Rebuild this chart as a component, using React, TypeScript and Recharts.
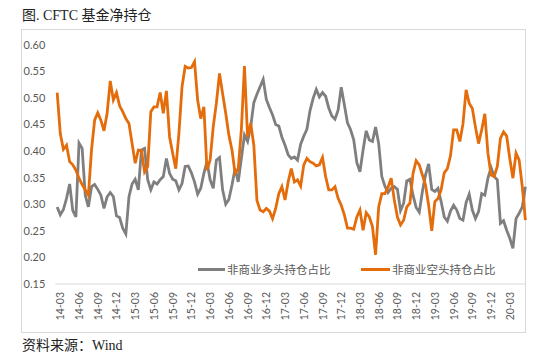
import { LineChart, Line, XAxis, YAxis, Legend } from 'recharts';

const GREY = '#7f7f7f';
const ORANGE = '#e46c0a';
const AXIS_TEXT = '#595959';

// half-month samples, first point mid Feb 2014
const longRatio = [
  0.295, 0.28, 0.29, 0.311, 0.338, 0.288, 0.276, 0.415, 0.405, 0.317,
  0.295, 0.333, 0.337, 0.328, 0.317, 0.292, 0.314, 0.322, 0.314, 0.278,
  0.275, 0.255, 0.244, 0.314, 0.338, 0.347, 0.327, 0.402, 0.405, 0.346,
  0.327, 0.342, 0.338, 0.346, 0.352, 0.386, 0.358, 0.347, 0.344, 0.327,
  0.339, 0.371, 0.372, 0.359, 0.342, 0.319, 0.33, 0.358, 0.38, 0.346,
  0.33, 0.383, 0.388, 0.327, 0.3, 0.309, 0.336, 0.367, 0.342, 0.386,
  0.43, 0.418, 0.446, 0.491, 0.507, 0.521, 0.535, 0.497, 0.482, 0.468,
  0.45, 0.447, 0.426, 0.411, 0.393, 0.386, 0.389, 0.383, 0.413, 0.428,
  0.441, 0.476, 0.499, 0.516, 0.502, 0.51, 0.503, 0.481, 0.466, 0.46,
  0.477, 0.52, 0.487, 0.453, 0.44, 0.421, 0.378, 0.361, 0.402, 0.438,
  0.421, 0.418, 0.445, 0.414, 0.352, 0.334, 0.322, 0.33, 0.333, 0.328,
  0.288, 0.302, 0.344, 0.347, 0.317, 0.294, 0.285, 0.324, 0.355, 0.376,
  0.328, 0.324, 0.33, 0.305, 0.276, 0.268, 0.287, 0.298, 0.289, 0.273,
  0.27, 0.303, 0.319, 0.289, 0.273, 0.286, 0.32, 0.317, 0.349, 0.369,
  0.352, 0.346, 0.264, 0.269, 0.251, 0.236, 0.217, 0.273, 0.283, 0.295,
  0.333,
];

const shortRatio = [
  0.51, 0.433, 0.403, 0.411, 0.38, 0.374, 0.364, 0.349, 0.337, 0.327,
  0.317, 0.402, 0.458, 0.472, 0.458, 0.438, 0.471, 0.532, 0.496, 0.51,
  0.485, 0.474, 0.461, 0.452, 0.414, 0.377, 0.402, 0.401, 0.361, 0.371,
  0.474, 0.483, 0.483, 0.51, 0.471, 0.513, 0.427, 0.396, 0.367, 0.433,
  0.521, 0.559, 0.556, 0.557, 0.568, 0.496, 0.461, 0.483, 0.364, 0.383,
  0.446, 0.49, 0.546, 0.508, 0.471, 0.43, 0.402, 0.358, 0.366, 0.44,
  0.56, 0.427, 0.452, 0.411, 0.307, 0.289, 0.286, 0.292, 0.287, 0.273,
  0.292, 0.32, 0.333, 0.308, 0.342, 0.367, 0.342, 0.346, 0.334, 0.374,
  0.386, 0.38, 0.377, 0.372, 0.374, 0.388, 0.352, 0.327, 0.327, 0.333,
  0.311, 0.298, 0.28, 0.255, 0.255, 0.253, 0.276, 0.289, 0.251, 0.284,
  0.276, 0.258, 0.205, 0.295, 0.32, 0.32, 0.332, 0.349, 0.308, 0.276,
  0.261, 0.27, 0.295, 0.302, 0.358, 0.382, 0.374, 0.355, 0.336, 0.298,
  0.25, 0.305, 0.311, 0.327, 0.359, 0.367, 0.391, 0.44, 0.44, 0.418,
  0.451, 0.515, 0.49, 0.48, 0.445, 0.414, 0.44, 0.47, 0.396, 0.355,
  0.352, 0.371, 0.424, 0.436, 0.428, 0.386, 0.349, 0.396, 0.383, 0.333,
  0.27,
];

const xLabels = [
  '14-03', '14-06', '14-09', '14-12', '15-03', '15-06', '15-09', '15-12',
  '16-03', '16-06', '16-09', '16-12', '17-03', '17-06', '17-09', '17-12',
  '18-03', '18-06', '18-09', '18-12', '19-03', '19-06', '19-09', '19-12', '20-03',
];

const yTicks = [0.15, 0.2, 0.25, 0.3, 0.35, 0.4, 0.45, 0.5, 0.55, 0.6];

// month index 0 = 14-03, samples every half month
const data = longRatio.map((v, i) => ({ m: -0.5 + i * 0.5, long: v, short: shortRatio[i] }));
const xTicks = xLabels.map((_, i) => i * 3);

const tickFont = 'Lato, "Liberation Sans", sans-serif';
const serifFont = '"Liberation Serif", "Noto Sans CJK SC", serif';

const XTick = ({ x, y, payload }: any) => (
  <text
    x={x}
    y={y}
    transform={`rotate(-90 ${x} ${y})`}
    textAnchor="end"
    dominantBaseline="central"
    fontSize={10.5}
    fontFamily={tickFont}
    fill={AXIS_TEXT}
  >
    {xLabels[Math.round(payload.value / 3)]}
  </text>
);

const LegendBox = () => (
  <div
    style={{
      position: 'relative',
      width: 547,
      height: 20,
      fontFamily: '"Noto Sans CJK SC", sans-serif',
      fontSize: 11.5,
      color: AXIS_TEXT,
    }}
  >
    <span style={{ position: 'absolute', left: 197, top: 8, width: 27, height: 3, background: GREY }} />
    <span style={{ position: 'absolute', left: 226, top: 0, lineHeight: '18px', whiteSpace: 'nowrap' }}>
      非商业多头持仓占比
    </span>
    <span style={{ position: 'absolute', left: 360, top: 8, width: 29, height: 3, background: ORANGE }} />
    <span style={{ position: 'absolute', left: 391, top: 0, lineHeight: '18px', whiteSpace: 'nowrap' }}>
      非商业空头持仓占比
    </span>
  </div>
);

export default function App() {
  return (
    <div style={{ position: 'absolute', left: 0, top: 0, width: 548, height: 358, background: '#fff' }}>
      <div
        style={{
          position: 'absolute',
          left: 22,
          top: 7,
          fontSize: 14,
          lineHeight: '17px',
          fontFamily: serifFont,
          color: '#222',
          whiteSpace: 'nowrap',
        }}
      >
        图. CFTC 基金净持仓
      </div>

      {/* chart frame */}
      <div
        style={{
          position: 'absolute',
          left: 21,
          top: 29,
          width: 503,
          height: 302,
          border: '1px solid #d9d9d9',
        }}
      />

      <div style={{ position: 'absolute', left: 0, top: 0 }}>
        <LineChart width={548} height={358} data={data} margin={{ top: 44.7, right: 22.6, bottom: 34, left: 15.3 }}>
          <XAxis
            dataKey="m"
            type="number"
            domain={[-0.8, 74.5]}
            ticks={xTicks}
            interval={0}
            tick={XTick}
            tickLine={false}
            tickSize={0}
            tickMargin={8}
            height={40}
            axisLine={{ stroke: '#d9d9d9' }}
          />
          <YAxis
            type="number"
            domain={[0.15, 0.6]}
            ticks={yTicks}
            width={40}
            tickFormatter={(v: number) => v.toFixed(2)}
            tick={{ fontSize: 11, fill: AXIS_TEXT, fontFamily: tickFont }}
            tickLine={false}
            tickSize={0}
            tickMargin={10}
            axisLine={false}
          />
          <Legend
            layout="horizontal"
            verticalAlign="middle"
            align="center"
            content={LegendBox}
            wrapperStyle={{ left: 1, top: 260, width: 547 }}
          />
          <Line
            type="linear"
            dataKey="long"
            name="非商业多头持仓占比"
            stroke={GREY}
            strokeWidth={2.8}
            dot={false}
            isAnimationActive={false}
          />
          <Line
            type="linear"
            dataKey="short"
            name="非商业空头持仓占比"
            stroke={ORANGE}
            strokeWidth={2.8}
            dot={false}
            isAnimationActive={false}
          />
        </LineChart>
      </div>

      <div
        style={{
          position: 'absolute',
          left: 22,
          top: 337,
          fontSize: 14,
          lineHeight: '17px',
          fontFamily: serifFont,
          color: '#222',
          whiteSpace: 'nowrap',
        }}
      >
        资料来源：Wind
      </div>
    </div>
  );
}
